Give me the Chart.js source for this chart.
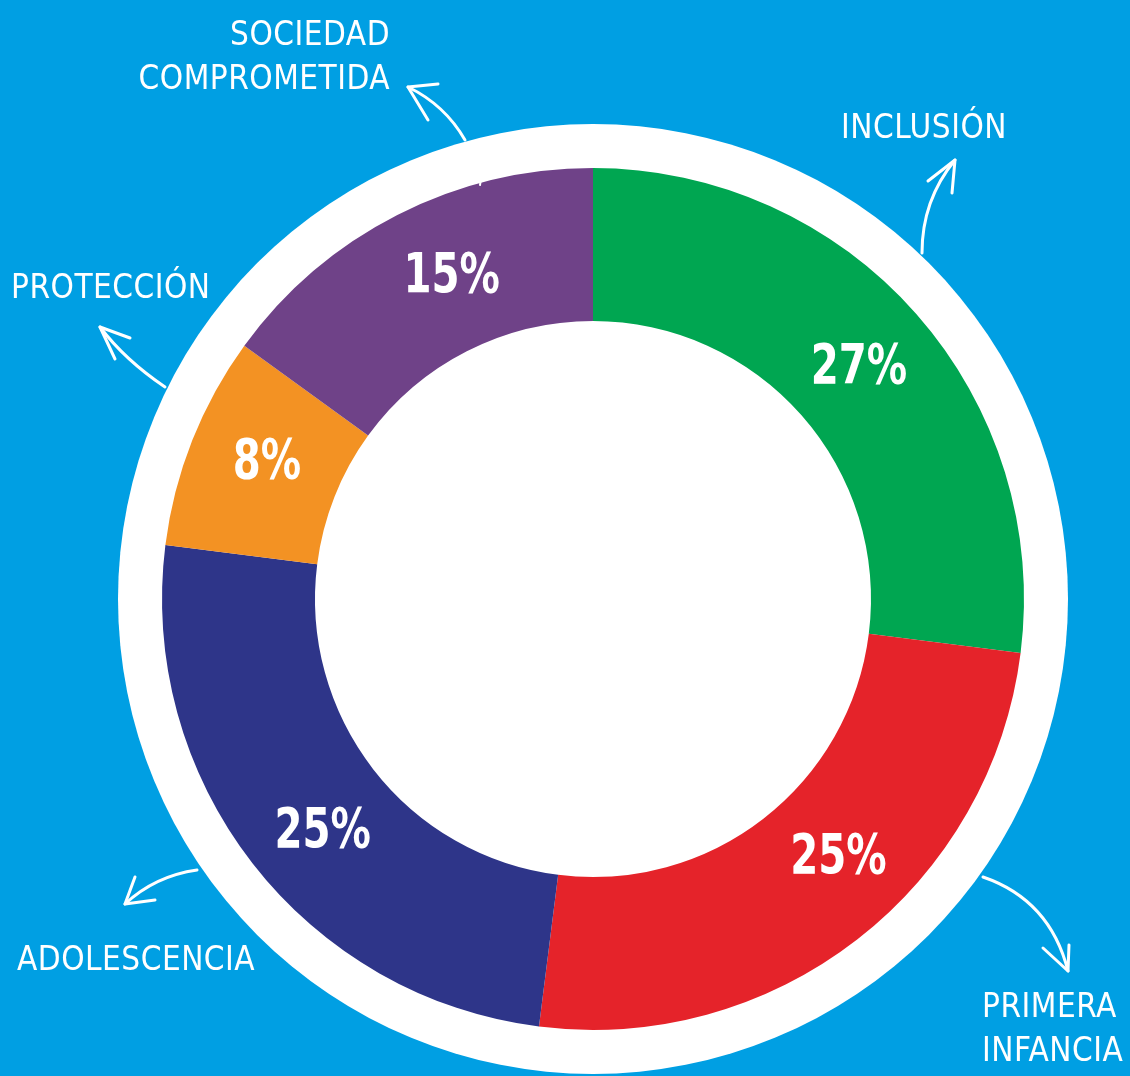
<!DOCTYPE html>
<html>
<head>
<meta charset="utf-8">
<script src="https://cdn.jsdelivr.net/npm/chart.js@4"></script>
<style>
  html, body { margin: 0; padding: 0; background: #009FE3; }
  #wrap { position: relative; width: 1130px; height: 1076px; }
</style>
</head>
<body>
<div id="wrap"><canvas id="chart" width="1130" height="1076"></canvas></div>
<script>
// Distribution by area
const categories = ['INCLUSIÓN', 'PRIMERA INFANCIA', 'ADOLESCENCIA', 'PROTECCIÓN', 'SOCIEDAD COMPROMETIDA'];
const shares = [27, 25, 25, 8, 15];
const sliceColors = ['#00A651', '#E5232A', '#2E3589', '#F39223', '#6F4288'];

// small angle nudge (degrees) for the percentage text in each slice
const pctNudge = [0, -6, -2.5, 1.5, 3.5];

// where each category name goes (lines, anchor, alignment) and its arrow
const labelLayout = [
  { lines: ['INCLUSIÓN'], x: 841, y: 138, align: 'left',
    arrow: { from: [922, 253], ctrl: [922, 200], to: [955, 160], barbs: [[928, 181], [952, 193]] } },
  { lines: ['PRIMERA', 'INFANCIA'], x: 982, y: 1017, align: 'left',
    arrow: { from: [983, 877], ctrl: [1050, 900], to: [1068, 971], barbs: [[1043, 948], [1069, 945]] } },
  { lines: ['ADOLESCENCIA'], x: 17, y: 970, align: 'left',
    arrow: { from: [197, 870], ctrl: [155, 876], to: [125, 904], barbs: [[135, 877], [155, 900]] } },
  { lines: ['PROTECCIÓN'], x: 11, y: 298, align: 'left',
    arrow: { from: [165, 387], ctrl: [125, 360], to: [100, 327], barbs: [[130, 338], [115, 359]] } },
  { lines: ['SOCIEDAD', 'COMPROMETIDA'], x: 390, y: 45, align: 'right',
    arrow: { from: [465, 140], ctrl: [445, 105], to: [408, 87], barbs: [[438, 84], [428, 120]] } }
];

const LABEL_FONT = '33px "Liberation Sans Narrow", "DejaVu Sans Condensed", sans-serif';
const PCT_FONT = 'bold 56px "Liberation Sans Narrow", "DejaVu Sans Condensed", sans-serif';

const ringPlugin = {
  id: 'ring',
  beforeDatasetsDraw(chart) {
    const arc = chart.getDatasetMeta(0).data[0];
    if (!arc) return;
    const ctx = chart.ctx;
    ctx.save();
    ctx.fillStyle = '#ffffff';
    ctx.beginPath();
    ctx.arc(arc.x, arc.y, arc.outerRadius + 44, 0, Math.PI * 2);
    ctx.fill();
    ctx.restore();
  },
  afterDatasetsDraw(chart) {
    const ctx = chart.ctx;
    const meta = chart.getDatasetMeta(0);
    ctx.save();
    // percentages inside the slices, squeezed to look condensed
    ctx.fillStyle = '#ffffff';
    ctx.font = PCT_FONT;
    ctx.textAlign = 'center';
    ctx.textBaseline = 'middle';
    meta.data.forEach((arc, i) => {
      const mid = (arc.startAngle + arc.endAngle) / 2 + pctNudge[i] * Math.PI / 180;
      const r = (arc.innerRadius + arc.outerRadius) / 2;
      ctx.save();
      ctx.translate(arc.x + Math.cos(mid) * r, arc.y + Math.sin(mid) * r + 4);
      ctx.scale(0.8, 1);
      ctx.fillText(shares[i] + '%', 0, 0);
      ctx.restore();
    });

    // category names
    ctx.font = LABEL_FONT;
    ctx.textBaseline = 'alphabetic';
    if ('letterSpacing' in ctx) ctx.letterSpacing = '0.5px';
    labelLayout.forEach(l => {
      ctx.textAlign = l.align;
      l.lines.forEach((line, j) => ctx.fillText(line, l.x, l.y + j * 44));
    });
    if ('letterSpacing' in ctx) ctx.letterSpacing = '0px';

    // hand drawn arrows
    ctx.strokeStyle = '#ffffff';
    ctx.lineWidth = 3;
    ctx.lineCap = 'round';
    ctx.lineJoin = 'round';
    labelLayout.forEach(l => {
      const a = l.arrow;
      ctx.beginPath();
      ctx.moveTo(a.from[0], a.from[1]);
      ctx.quadraticCurveTo(a.ctrl[0], a.ctrl[1], a.to[0], a.to[1]);
      ctx.stroke();
      ctx.beginPath();
      ctx.moveTo(a.barbs[0][0], a.barbs[0][1]);
      ctx.lineTo(a.to[0], a.to[1]);
      ctx.lineTo(a.barbs[1][0], a.barbs[1][1]);
      ctx.stroke();
    });
    // tiny tick peeking at the purple edge
    ctx.lineWidth = 2;
    ctx.beginPath();
    ctx.moveTo(481, 179);
    ctx.lineTo(480, 185);
    ctx.stroke();
    ctx.restore();
  }
};

new Chart(document.getElementById('chart'), {
  type: 'doughnut',
  data: {
    labels: categories,
    datasets: [{
      data: shares,
      backgroundColor: sliceColors,
      borderWidth: 0,
      hoverOffset: 0
    }]
  },
  options: {
    responsive: false,
    animation: false,
    cutout: '64.5%',
    layout: { padding: { left: 162, right: 106, top: 168, bottom: 46 } },
    plugins: {
      legend: { display: false },
      tooltip: { enabled: false }
    }
  },
  plugins: [ringPlugin]
});
</script>
</body>
</html>
